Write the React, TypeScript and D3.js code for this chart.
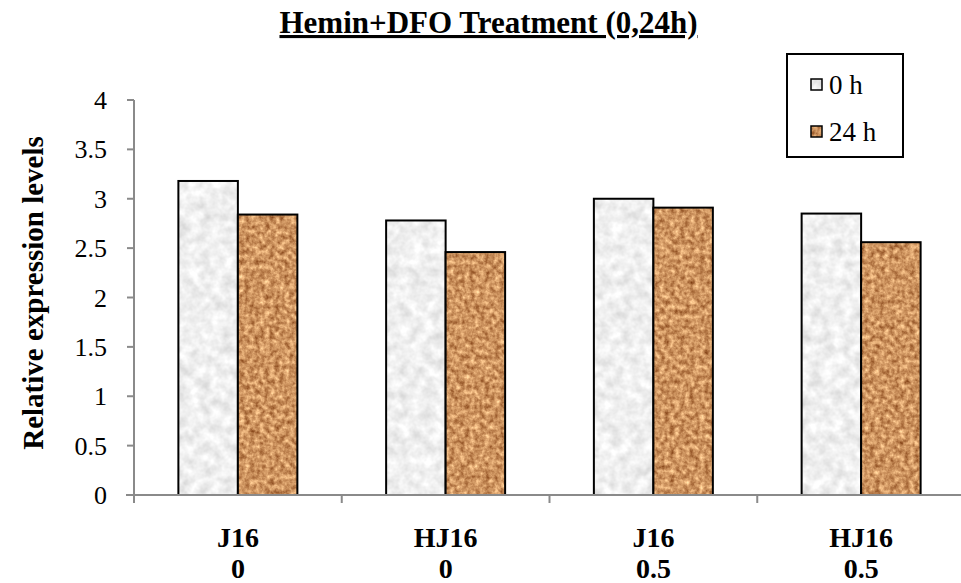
import React from "react";
import * as d3 from "d3";

const strains = ["J16", "HJ16", "J16", "HJ16"];
const doses = ["0", "0", "0.5", "0.5"];
const seriesNames = ["0 h", "24 h"];
const values0h = [3.18, 2.78, 3.0, 2.85];
const values24h = [2.84, 2.46, 2.91, 2.56];
const yTicks = [0, 0.5, 1, 1.5, 2, 2.5, 3, 3.5, 4];
const title = "Hemin+DFO Treatment (0,24h)";
const yTitle = "Relative expression levels";

const W = 961;
const H = 583;
const left = 134;
const right = 965;
const top = 100;
const bottom = 495;
const FONT = "'Liberation Serif', 'Times New Roman', serif";
const AXIS = "#8a8a8a";

export default function App() {
  const keys = strains.map((s, i) => `${s}|${doses[i]}`);
  const x0 = d3.scaleBand<string>().domain(keys).range([left, right]).padding(0);
  const x1 = d3
    .scaleBand<string>()
    .domain(seriesNames)
    .range([0, x0.bandwidth()])
    .paddingInner(0)
    .paddingOuter(0.746);
  const y = d3.scaleLinear().domain([0, 4]).range([bottom, top]);
  const seriesVals = [values0h, values24h];
  const filters = ["url(#fLight)", "url(#fBrown)"];
  const boundaries = keys.slice(1).map((k) => x0(k) as number);

  return (
    <svg
      width={W}
      height={H}
      style={{ position: "absolute", left: 0, top: 0, background: "#fff" }}
    >
      <defs>
        <filter id="fBrown" x="0" y="0" width="1" height="1" colorInterpolationFilters="sRGB">
          <feTurbulence type="fractalNoise" baseFrequency="0.2" numOctaves={3} seed={3} />
          <feColorMatrix
            type="matrix"
            values="0.65 0 0 0 0.48  0.72 0 0 0 0.22  0.65 0 0 0 0.05  0 0 0 0 1"
          />
          <feComposite in2="SourceGraphic" operator="in" />
        </filter>
        <filter id="fLight" x="0" y="0" width="1" height="1" colorInterpolationFilters="sRGB">
          <feTurbulence type="fractalNoise" baseFrequency="0.09" numOctaves={3} seed={7} />
          <feColorMatrix
            type="matrix"
            values="0.24 0 0 0 0.82  0.24 0 0 0 0.82  0.24 0 0 0 0.82  0 0 0 0 1"
          />
          <feComposite in2="SourceGraphic" operator="in" />
        </filter>
      </defs>

      {/* title */}
      <text
        x={488.5}
        y={33}
        textAnchor="middle"
        fontFamily={FONT}
        fontWeight="bold"
        fontSize={31}
        textDecoration="underline"
        fill="#000"
      >
        {title}
      </text>

      {/* y axis title */}
      <text
        transform={`translate(43,293) rotate(-90)`}
        textAnchor="middle"
        fontFamily={FONT}
        fontWeight="bold"
        fontSize={29}
        fill="#000"
      >
        {yTitle}
      </text>

      {/* bars */}
      {keys.map((k, ci) =>
        seriesNames.map((s, si) => {
          const bx = (x0(k) as number) + (x1(s) as number);
          const by = y(seriesVals[si][ci]);
          const bw = x1.bandwidth();
          const bh = bottom - by;
          return (
            <g key={`${k}-${s}`}>
              <rect x={bx} y={by} width={bw} height={bh} fill="#ccc" filter={filters[si]} />
              <rect x={bx} y={by} width={bw} height={bh} fill="none" stroke="#000" strokeWidth={2} />
            </g>
          );
        })
      )}

      {/* y axis */}
      <line x1={left} x2={left} y1={top} y2={bottom + 8} stroke={AXIS} strokeWidth={2} />
      {yTicks.map((t) => (
        <g key={t}>
          <line x1={left - 7} x2={left} y1={y(t)} y2={y(t)} stroke={AXIS} strokeWidth={2} />
          <text
            x={107}
            y={y(t)}
            dy="0.35em"
            textAnchor="end"
            fontFamily={FONT}
            fontSize={26}
            fill="#000"
          >
            {t}
          </text>
        </g>
      ))}

      {/* x axis */}
      <line x1={left - 8} x2={W} y1={bottom} y2={bottom} stroke={AXIS} strokeWidth={2} />
      {boundaries.map((bx) => (
        <line key={bx} x1={bx} x2={bx} y1={bottom} y2={bottom + 8} stroke={AXIS} strokeWidth={2} />
      ))}
      {keys.map((k, i) => {
        const cx = (x0(k) as number) + x0.bandwidth() / 2;
        return (
          <g key={k}>
            <text x={cx} y={547} textAnchor="middle" fontFamily={FONT} fontWeight="bold" fontSize={28} fill="#000">
              {strains[i]}
            </text>
            <text x={cx} y={578} textAnchor="middle" fontFamily={FONT} fontWeight="bold" fontSize={28} fill="#000">
              {doses[i]}
            </text>
          </g>
        );
      })}

      {/* legend */}
      <rect x={787} y={54} width={116} height={103} fill="#fff" stroke="#000" strokeWidth={2} />
      {seriesNames.map((s, i) => {
        const cy = 84.5 + i * 47;
        return (
          <g key={s}>
            <rect x={811} y={cy - 5.5} width={11} height={11} fill="#ccc" filter={filters[i]} />
            <rect x={811} y={cy - 5.5} width={11} height={11} fill="none" stroke="#000" strokeWidth={1.5} />
            <text x={829} y={cy + 9} fontFamily={FONT} fontSize={27} fill="#000">
              {s}
            </text>
          </g>
        );
      })}
    </svg>
  );
}
